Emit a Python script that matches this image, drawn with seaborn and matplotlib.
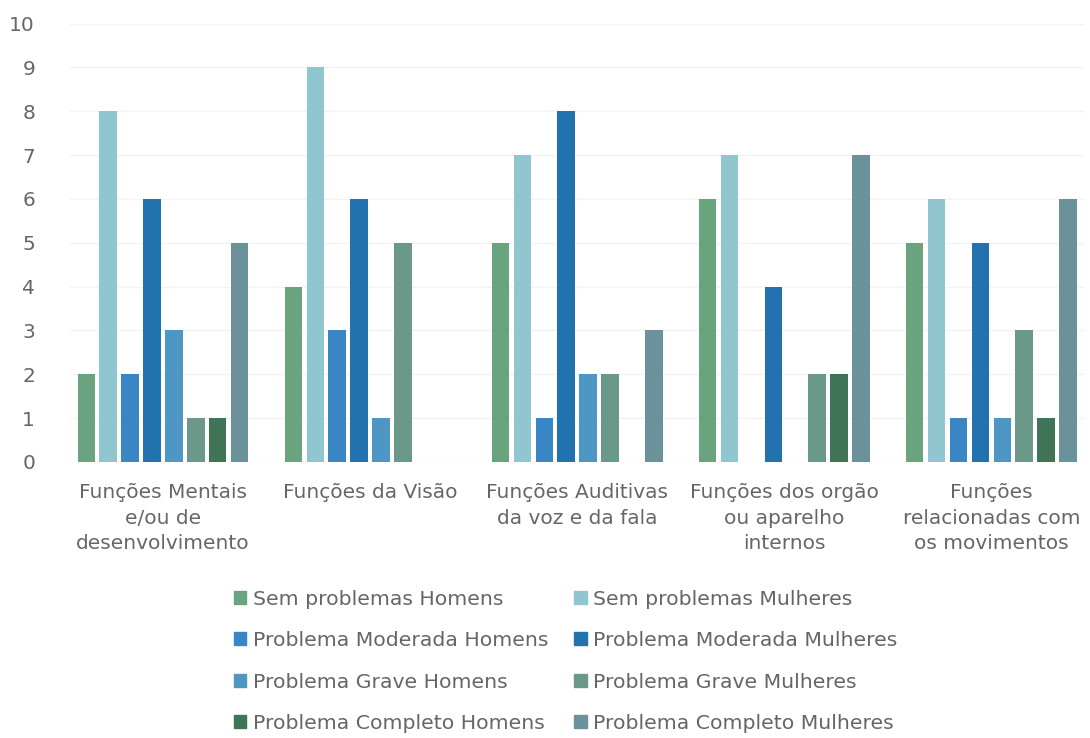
import matplotlib
matplotlib.use("Agg")
import matplotlib.pyplot as plt
import pandas as pd
import seaborn as sns

# Data
categorias = [
    "Funções Mentais\ne/ou de\ndesenvolvimento",
    "Funções da Visão",
    "Funções Auditivas\nda voz e da fala",
    "Funções dos orgão\nou aparelho\ninternos",
    "Funções\nrelacionadas com\nos movimentos",
]
series = [
    "Sem problemas Homens",
    "Sem problemas Mulheres",
    "Problema Moderada Homens",
    "Problema Moderada Mulheres",
    "Problema Grave Homens",
    "Problema Grave Mulheres",
    "Problema Completo Homens",
    "Problema Completo Mulheres",
]
sem_homens = [2, 4, 5, 6, 5]
sem_mulheres = [8, 9, 7, 7, 6]
moderada_homens = [2, 3, 1, 0, 1]
moderada_mulheres = [6, 6, 8, 4, 5]
grave_homens = [3, 1, 2, 0, 1]
grave_mulheres = [1, 5, 2, 2, 3]
completo_homens = [1, 0, 0, 2, 1]
completo_mulheres = [5, 0, 3, 7, 6]

cores = [
    "#6aa47f",
    "#8fc6cf",
    "#3a86c4",
    "#2272b0",
    "#4e97c4",
    "#6a998a",
    "#3f7456",
    "#6b929a",
]

valores = [
    sem_homens, sem_mulheres, moderada_homens, moderada_mulheres,
    grave_homens, grave_mulheres, completo_homens, completo_mulheres,
]
rows = []
for nome, vals in zip(series, valores):
    for cat, v in zip(categorias, vals):
        rows.append({"categoria": cat, "serie": nome, "valor": v})
df = pd.DataFrame(rows)

sns.set_theme(style="white")
plt.rcParams["font.family"] = ["DejaVu Sans"]
texto = "#666666"

fig = plt.figure(figsize=(10.9, 7.38), dpi=100)
ax = fig.add_axes([0.064, 0.374, 0.931, 0.594])

sns.barplot(
    data=df, x="categoria", y="valor", hue="serie",
    order=categorias, hue_order=series, palette=cores,
    width=0.846, gap=0.2, saturation=1, linewidth=0,
    ax=ax, legend=False,
)

ax.set_ylim(0, 10)
ax.set_xlim(-0.45, 4.45)
ax.set_yticks(range(0, 11))
ax.yaxis.grid(True, color="#f3f3f3", linewidth=1)
ax.set_axisbelow(True)
for s in ax.spines.values():
    s.set_visible(False)
ax.set_xlabel("")
ax.set_ylabel("")
ax.tick_params(axis="y", length=0, pad=25, labelsize=14.5, labelcolor=texto)
ax.tick_params(axis="x", length=0, pad=15, labelsize=14.5, labelcolor=texto)
for lbl in ax.get_xticklabels():
    lbl.set_linespacing(1.45)

# legend filled row-wise (2 columns)
handles = [plt.Rectangle((0, 0), 1, 1, color=c) for c in cores]
ordem = [0, 2, 4, 6, 1, 3, 5, 7]
leg = fig.legend(
    [handles[i] for i in ordem], [series[i] for i in ordem],
    ncol=2, loc="upper left", bbox_to_anchor=(0.198, 0.226),
    frameon=False, fontsize=14.7, handlelength=0.6, handleheight=0.6,
    handletextpad=0.3, columnspacing=1.3, labelspacing=1.1,
    labelcolor=texto,
)

fig.savefig("out.png", dpi=100)
